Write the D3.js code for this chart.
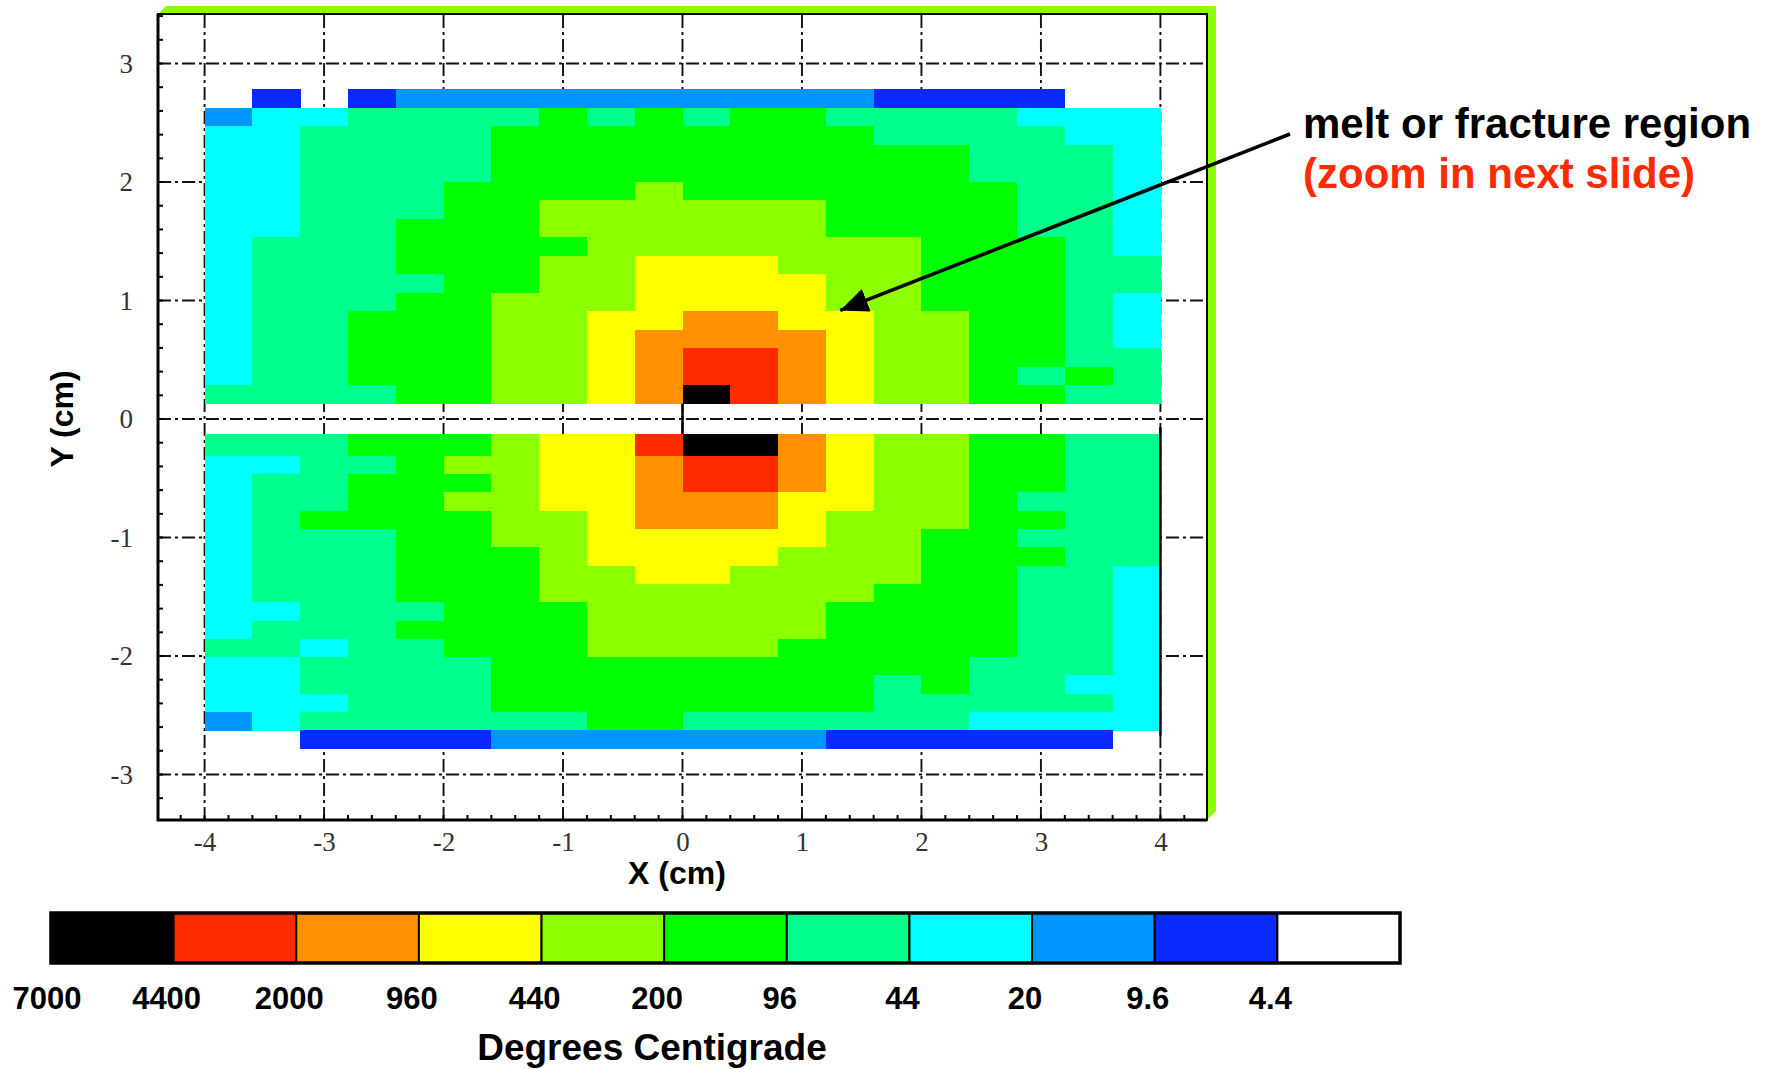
<!DOCTYPE html>
<html>
<head>
<meta charset="utf-8">
<script src="https://cdn.jsdelivr.net/npm/d3@7"></script>
<style>
  body { margin: 0; background: #fff; }
  svg { display: block; }
</style>
</head>
<body>
<script>

// temperature bins (index into legend), 10 = below 4.4 (white)
const levelLabels = ['7000', '4400', '2000', '960', '440', '200', '96', '44', '20', '9.6', '4.4'];
const levelColors = ['#000000', '#ff2a00', '#ff9100', '#ffff00', '#8cff00', '#00ff00',
                     '#00ff8c', '#00ffff', '#0096ff', '#0a2aff', '#ffffff'];

// 20 columns, 0.4 cm wide, from x = -4 to 4
const colStarts = d3.range(20).map(i => -4 + 0.4 * i);

// upper half, top row first
const upperTopRow = [10, 9, 10, 9, 8, 8, 8, 8, 8, 8, 8, 8, 8, 8, 9, 9, 9, 9, 10, 10];
const upperRows = [
  [8, 7, 7, 6, 6, 6, 6, 5, 6, 5, 6, 5, 5, 6, 6, 6, 6, 7, 7, 7],
  [7, 7, 6, 6, 6, 6, 5, 5, 5, 5, 5, 5, 5, 5, 6, 6, 6, 6, 7, 7],
  [7, 7, 6, 6, 6, 6, 5, 5, 5, 5, 5, 5, 5, 5, 5, 5, 6, 6, 6, 7],
  [7, 7, 6, 6, 6, 6, 5, 5, 5, 5, 5, 5, 5, 5, 5, 5, 6, 6, 6, 7],
  [7, 7, 6, 6, 6, 5, 5, 5, 5, 4, 5, 5, 5, 5, 5, 5, 5, 6, 6, 7],
  [7, 7, 6, 6, 6, 5, 5, 4, 4, 4, 4, 4, 4, 5, 5, 5, 5, 6, 6, 7],
  [7, 7, 6, 6, 5, 5, 5, 4, 4, 4, 4, 4, 4, 5, 5, 5, 5, 6, 6, 7],
  [7, 6, 6, 6, 5, 5, 5, 5, 4, 4, 4, 4, 4, 4, 4, 5, 5, 5, 6, 7],
  [7, 6, 6, 6, 5, 5, 5, 4, 4, 3, 3, 3, 4, 4, 4, 5, 5, 5, 6, 6],
  [7, 6, 6, 6, 6, 5, 5, 4, 4, 3, 3, 3, 3, 4, 4, 5, 5, 5, 6, 6],
  [7, 6, 6, 6, 5, 5, 4, 4, 4, 3, 3, 3, 3, 4, 4, 5, 5, 5, 6, 7],
  [7, 6, 6, 5, 5, 5, 4, 4, 3, 3, 2, 2, 3, 3, 4, 4, 5, 5, 6, 7],
  [7, 6, 6, 5, 5, 5, 4, 4, 3, 2, 2, 2, 2, 3, 4, 4, 5, 5, 6, 7],
  [7, 6, 6, 5, 5, 5, 4, 4, 3, 2, 1, 1, 2, 3, 4, 4, 5, 5, 6, 6],
  [7, 6, 6, 5, 5, 5, 4, 4, 3, 2, 1, 1, 2, 3, 4, 4, 5, 6, 5, 6],
  [6, 6, 6, 6, 5, 5, 4, 4, 3, 2, 0, 1, 2, 3, 4, 4, 5, 5, 6, 6]
];

// lower half, top row (next to the crack) first
const lowerRows = [
  [6, 6, 6, 5, 5, 5, 4, 3, 3, 1, 0, 0, 2, 3, 4, 4, 5, 5, 6, 6],
  [7, 7, 6, 6, 5, 4, 4, 3, 3, 2, 1, 1, 2, 3, 4, 4, 5, 5, 6, 6],
  [7, 6, 6, 5, 5, 5, 4, 3, 3, 2, 1, 1, 2, 3, 4, 4, 5, 5, 6, 6],
  [7, 6, 6, 5, 5, 4, 4, 3, 3, 2, 2, 2, 3, 3, 4, 4, 5, 6, 6, 6],
  [7, 6, 5, 5, 5, 5, 4, 4, 3, 2, 2, 2, 3, 4, 4, 4, 5, 5, 6, 6],
  [7, 6, 6, 6, 5, 5, 4, 4, 3, 3, 3, 3, 3, 4, 4, 5, 5, 6, 6, 6],
  [7, 6, 6, 6, 5, 5, 5, 4, 3, 3, 3, 3, 4, 4, 4, 5, 5, 5, 6, 6],
  [7, 6, 6, 6, 5, 5, 5, 4, 4, 3, 3, 4, 4, 4, 4, 5, 5, 6, 6, 7],
  [7, 6, 6, 6, 5, 5, 5, 4, 4, 4, 4, 4, 4, 4, 5, 5, 5, 6, 6, 7],
  [7, 7, 6, 6, 6, 5, 5, 5, 4, 4, 4, 4, 4, 5, 5, 5, 5, 6, 6, 7],
  [7, 6, 6, 6, 5, 5, 5, 5, 4, 4, 4, 4, 4, 5, 5, 5, 5, 6, 6, 7],
  [6, 6, 7, 6, 6, 5, 5, 5, 4, 4, 4, 4, 5, 5, 5, 5, 5, 6, 6, 7],
  [7, 7, 6, 6, 6, 6, 5, 5, 5, 5, 5, 5, 5, 5, 5, 5, 6, 6, 6, 7],
  [7, 7, 6, 6, 6, 6, 5, 5, 5, 5, 5, 5, 5, 5, 6, 5, 6, 6, 7, 7],
  [7, 7, 7, 6, 6, 6, 5, 5, 5, 5, 5, 5, 5, 5, 6, 6, 6, 6, 6, 7],
  [8, 7, 6, 6, 6, 6, 6, 6, 5, 5, 6, 6, 6, 6, 6, 6, 7, 7, 7, 7]
];
const lowerBottomRow = [10, 10, 9, 9, 9, 9, 8, 8, 8, 8, 8, 8, 8, 9, 9, 9, 9, 9, 9, 10];

// row edges (cm)
const upperEdges = d3.range(18).map(k => 2.782 - (k === 0 ? 0 : 0.156 + (k - 1) * 0.156));
const lowerEdges = [-0.127].concat(d3.range(16).map(k => -0.311 - k * 0.1544));
lowerEdges.push(-2.782);

const xTicks = d3.range(-4, 5);
const yTicks = d3.range(-3, 4);

const W = 1777, H = 1069;
const svg = d3.select('body').append('svg')
    .attr('width', W)
    .attr('height', H);

const x = d3.scaleLinear().domain([-4.39, 4.39]).range([158, 1207]);
const y = d3.scaleLinear().domain([-3.384, 3.418]).range([820, 14]);
const [x0, x1] = x.range();
const [yb, yt] = y.range();

// 3d-ish green edge of the box
svg.append('polygon')
    .attr('points', [[x0, yt], [x0 + 8, yt - 8], [x1 + 9, yt - 8], [x1, yt]].join(' '))
    .attr('fill', '#8cff00');
svg.append('polygon')
    .attr('points', [[x1, yt], [x1 + 9, yt - 8], [x1 + 9, yb - 9], [x1, yb]].join(' '))
    .attr('fill', '#8cff00');

// dash-dot grid
const grid = svg.append('g')
    .attr('stroke', '#111')
    .attr('stroke-width', 1.9)
    .attr('stroke-dasharray', '13,4,3,4');
grid.selectAll('.gx').data(xTicks).join('line')
    .attr('x1', d => x(d)).attr('x2', d => x(d))
    .attr('y1', yb).attr('y2', yt);
grid.selectAll('.gy').data(yTicks).join('line')
    .attr('y1', d => y(d)).attr('y2', d => y(d))
    .attr('x1', x0).attr('x2', x1);

// cells
const cells = [];
function addRow(row, top, bottom) {
    row.forEach((v, i) => {
        if (v === 10) return;
        cells.push({ x: colStarts[i], top, bottom, v });
    });
}
addRow(upperTopRow, upperEdges[0], upperEdges[1]);
upperRows.forEach((row, r) => addRow(row, upperEdges[r + 1], upperEdges[r + 2]));
lowerRows.forEach((row, r) => addRow(row, lowerEdges[r], lowerEdges[r + 1]));
addRow(lowerBottomRow, lowerEdges[16], lowerEdges[17]);

svg.append('g')
    .attr('shape-rendering', 'crispEdges')
    .selectAll('rect')
    .data(cells)
    .join('rect')
    .attr('x', d => x(d.x))
    .attr('width', d => x(d.x + 0.4) - x(d.x) + 0.5)
    .attr('y', d => y(d.top))
    .attr('height', d => y(d.bottom) - y(d.top) + 0.5)
    .attr('fill', d => levelColors[d.v]);

// crack lines
svg.append('line')
    .attr('x1', x(0)).attr('x2', x(0))
    .attr('y1', y(0.13)).attr('y2', y(-0.127))
    .attr('stroke', '#000').attr('stroke-width', 2.5);
svg.append('line')
    .attr('x1', x(4)).attr('x2', x(4))
    .attr('y1', y(-0.07)).attr('y2', y(-2.67))
    .attr('stroke', '#000').attr('stroke-width', 2.5);

// frame
svg.append('rect')
    .attr('x', x0).attr('y', yt)
    .attr('width', x1 - x0).attr('height', yb - yt)
    .attr('fill', 'none').attr('stroke', '#000').attr('stroke-width', 2);
svg.append('path')
    .attr('d', `M${x0},${yt}V${yb}H${x1}`)
    .attr('fill', 'none').attr('stroke', '#000').attr('stroke-width', 3);

// minor ticks
const xMinor = d3.range(-22, 23).map(v => v / 5).filter(v => v > -4.39 && v < 4.39);
const yMinor = d3.range(-16, 18).map(v => v / 5);
svg.append('g').selectAll('line').data(xMinor).join('line')
    .attr('x1', d => x(d)).attr('x2', d => x(d))
    .attr('y1', yb).attr('y2', yb - 5)
    .attr('stroke', '#000').attr('stroke-width', 2);
svg.append('g').selectAll('line').data(yMinor).join('line')
    .attr('y1', d => y(d)).attr('y2', d => y(d))
    .attr('x1', x0).attr('x2', x0 + 5)
    .attr('stroke', '#000').attr('stroke-width', 2);

// tick labels
const xAxis = svg.append('g')
    .attr('transform', `translate(0,${yb})`)
    .call(d3.axisBottom(x).tickValues(xTicks).tickSize(0).tickPadding(12).tickFormat(d => String(d)));
const yAxis = svg.append('g')
    .attr('transform', `translate(${x0},0)`)
    .call(d3.axisLeft(y).tickValues(yTicks).tickSize(0).tickPadding(25).tickFormat(d => String(d)));
[xAxis, yAxis].forEach(g => {
    g.select('.domain').remove();
    g.selectAll('text')
        .attr('font-family', 'Liberation Serif, serif')
        .attr('font-size', 27)
        .attr('fill', '#333');
});

const bold = 'Liberation Sans, Arial, sans-serif';
svg.append('text')
    .attr('x', 677).attr('y', 884)
    .attr('text-anchor', 'middle')
    .attr('font-family', bold).attr('font-weight', 'bold').attr('font-size', 32)
    .text('X (cm)');
svg.append('text')
    .attr('transform', 'translate(73,419) rotate(-90)')
    .attr('text-anchor', 'middle')
    .attr('font-family', bold).attr('font-weight', 'bold').attr('font-size', 32)
    .text('Y (cm)');

// colour legend
const lx = d3.scaleLinear().domain([0, levelColors.length]).range([51, 1400]);
const legTop = 913, legBottom = 963;
const leg = svg.append('g');
leg.selectAll('rect').data(levelColors).join('rect')
    .attr('x', (d, i) => lx(i)).attr('y', legTop)
    .attr('width', (d, i) => lx(i + 1) - lx(i)).attr('height', legBottom - legTop)
    .attr('fill', d => d)
    .attr('stroke', '#000').attr('stroke-width', 2);
leg.append('rect')
    .attr('x', lx(0)).attr('y', legTop)
    .attr('width', lx(levelColors.length) - lx(0)).attr('height', legBottom - legTop)
    .attr('fill', 'none').attr('stroke', '#000').attr('stroke-width', 3.5);
leg.selectAll('text').data(levelLabels).join('text')
    .attr('x', (d, i) => i === 0 ? lx(0) - 4 : lx(i) - 7)
    .attr('y', 1009)
    .attr('text-anchor', 'middle')
    .attr('font-family', bold).attr('font-weight', 'bold').attr('font-size', 31)
    .text(d => d);
svg.append('text')
    .attr('x', 652).attr('y', 1060)
    .attr('text-anchor', 'middle')
    .attr('font-family', bold).attr('font-weight', 'bold').attr('font-size', 37)
    .text('Degrees Centigrade');

// annotation
svg.append('defs').append('marker')
    .attr('id', 'head')
    .attr('markerUnits', 'userSpaceOnUse')
    .attr('markerWidth', 30).attr('markerHeight', 26)
    .attr('refX', 28).attr('refY', 12)
    .attr('orient', 'auto')
    .append('path')
    .attr('d', 'M0,0L28,12L0,24Z')
    .attr('fill', '#000');
svg.append('line')
    .attr('x1', 1290).attr('y1', 134)
    .attr('x2', x(1.32)).attr('y2', y(0.916))
    .attr('stroke', '#000').attr('stroke-width', 3.5)
    .attr('marker-end', 'url(#head)');
svg.append('text')
    .attr('x', 1303).attr('y', 138)
    .attr('font-family', bold).attr('font-weight', 'bold').attr('font-size', 42)
    .text('melt or fracture region');
svg.append('text')
    .attr('x', 1303).attr('y', 188)
    .attr('font-family', bold).attr('font-weight', 'bold').attr('font-size', 42)
    .attr('fill', '#ff2a00')
    .text('(zoom in next slide)');

</script>
</body>
</html>
